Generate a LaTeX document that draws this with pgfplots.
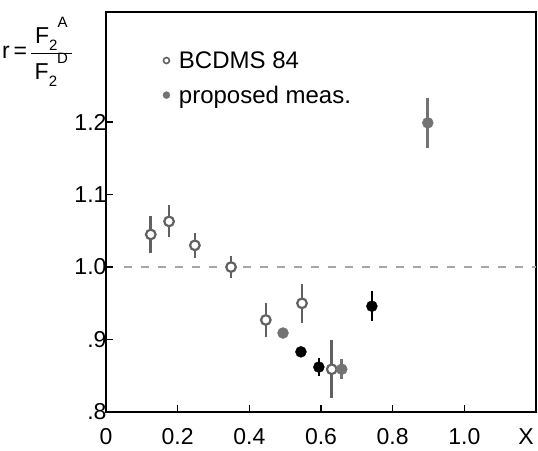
\documentclass[border=0pt]{standalone}
\usepackage{fontspec}
\setmainfont{Liberation Sans}
\usepackage{pgfplots}
\pgfplotsset{compat=1.18}
\usetikzlibrary{calc}
\definecolor{dgray}{gray}{0.38}
\definecolor{mgray}{gray}{0.45}
\newcommand\Ff[1]{F\raisebox{-0.6ex}{\fontsize{15}{15}\selectfont 2}\raisebox{1.3ex}{\fontsize{15}{15}\selectfont #1}}
\begin{document}
\begin{tikzpicture}
\begin{axis}[
  name=ax,
  scale only axis, width=430pt, height=400pt,
  xmin=0, xmax=1.2, ymin=0.8, ymax=1.352,
  axis line style={line width=1.6pt},
  xtick pos=bottom, ytick pos=left,
  tick align=inside,
  major tick length=7pt,
  tick style={line width=1.4pt, black},
  xtick={0,0.2,0.4,0.6,0.8,1.0},
  xticklabels={0,0.2,0.4,0.6,0.8,1.0},
  ytick={0.8,0.9,1.0,1.1,1.2},
  yticklabels={.8,.9,1.0,1.1,1.2},
  ticklabel style={font=\fontsize{23}{23}\selectfont},
  xticklabel style={yshift=-13pt},
  yticklabel style={xshift=4pt},
  /pgf/number format/assume math mode=true,
  clip=false,
  legend style={draw=none, fill=none, at={(rel axis cs:0.125,0.912)},
    anchor=north west, font=\fontsize{24}{26}\selectfont, row sep=12pt,
    nodes={inner xsep=9pt}},
  legend cell align=left,
]
% dashed reference line r = 1
\addplot[gray!70, line width=1.2pt, dash pattern=on 8pt off 9pt, forget plot]
  coordinates {(0.05,1.0) (1.2,1.0)};
% BCDMS 84
\addplot[only marks, mark=*, mark size=4.8pt, forget plot,
  mark options={fill=white, draw=dgray, line width=2.2pt},
  error bars/.cd, y dir=both, y explicit, error mark=none,
  error bar style={line width=2.6pt, dgray}]
  coordinates {
    (0.125,1.045) +- (0,0.025)
    (0.176,1.063) +- (0,0.022)
    (0.248,1.030) +- (0,0.017)
    (0.349,1.000) +- (0,0.015)
    (0.446,0.927) +- (0,0.023)
    (0.547,0.950) +- (0,0.027)
    (0.630,0.859) +- (0,0.040)
  };
% proposed measurement (grey)
\addplot[only marks, mark=*, mark size=5.5pt, forget plot,
  mark options={fill=mgray, draw=mgray},
  error bars/.cd, y dir=both, y explicit, error mark=none,
  error bar style={line width=2.6pt, mgray}]
  coordinates {
    (0.494,0.909) +- (0,0)
    (0.658,0.859) +- (0,0.014)
    (0.898,1.199) +- (0,0.034)
  };
% proposed measurement (black)
\addplot[only marks, mark=*, mark size=5.5pt, forget plot,
  mark options={fill=black, draw=black},
  error bars/.cd, y dir=both, y explicit, error mark=none,
  error bar style={line width=2.6pt, black}]
  coordinates {
    (0.544,0.883) +- (0,0)
    (0.594,0.862) +- (0,0.013)
    (0.742,0.946) +- (0,0.021)
  };
\addlegendimage{only marks, mark=*, mark size=3pt, mark options={fill=white, draw=dgray, line width=1.6pt}}
\addlegendentry{BCDMS 84}
\addlegendimage{only marks, mark=*, mark size=3.5pt, mark options={fill=mgray, draw=mgray}}
\addlegendentry{proposed meas.}
\node[font=\fontsize{23}{23}\selectfont] at (rel axis cs:0.977,-0.062) {X};
\node[anchor=west, font=\fontsize{23}{24}\selectfont, inner sep=0pt] at (rel axis cs:-0.242,0.9)
  {r\,=\,\begin{tabular}{@{\,}c@{\,}}\Ff{A}\\[2pt]\hline
   \rule{0pt}{24pt}\Ff{D}\end{tabular}};
\end{axis}
\pgfresetboundingbox
\path ($(ax.south west)+(-106pt,-38pt)$) rectangle ($(ax.north east)+(2pt,12pt)$);
\end{tikzpicture}
\end{document}
